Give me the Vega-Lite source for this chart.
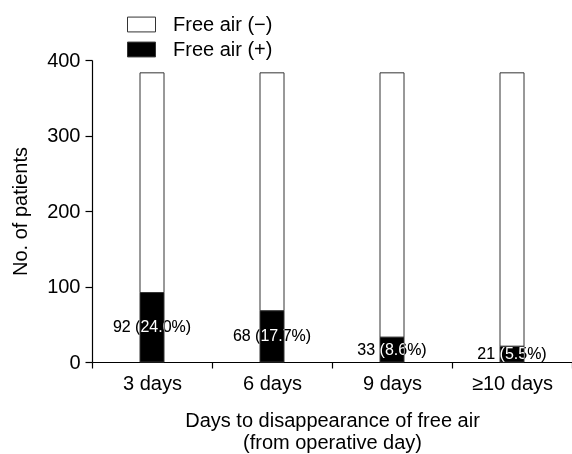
{
  "$schema": "https://vega.github.io/schema/vega-lite/v6.json",
  "width": 480,
  "height": 302,
  "autosize": {"type": "none"},
  "padding": {"left": 92, "top": 60, "right": 0, "bottom": 92},
  "background": "white",
  "config": {
    "view": {"stroke": null},
    "font": "Liberation Sans",
    "axis": {"labelFont": "Liberation Sans", "titleFont": "Liberation Sans", "labelColor": "#000", "titleColor": "#000", "domainColor": "#000", "tickColor": "#000", "titleFontWeight": "normal", "grid": false}
  },
  "data": {
    "values": [
      {"day": "3 days", "status": "Free air (+)", "n": 92, "label": "92 (24.0%)"},
      {"day": "3 days", "status": "Free air (−)", "n": 291},
      {"day": "6 days", "status": "Free air (+)", "n": 68, "label": "68 (17.7%)"},
      {"day": "6 days", "status": "Free air (−)", "n": 315},
      {"day": "9 days", "status": "Free air (+)", "n": 33, "label": "33 (8.6%)"},
      {"day": "9 days", "status": "Free air (−)", "n": 350},
      {"day": "≥10 days", "status": "Free air (+)", "n": 21, "label": "21 (5.5%)"},
      {"day": "≥10 days", "status": "Free air (−)", "n": 362}
    ]
  },
  "layer": [
    {
      "mark": {"type": "bar", "size": 24, "stroke": "#333", "strokeWidth": 1},
      "encoding": {
        "x": {
          "field": "day", "type": "nominal", "sort": null,
          "scale": {"paddingInner": 0, "paddingOuter": 0},
          "axis": {"title": ["Days to disappearance of free air", "(from operative day)"], "labelAngle": 0, "labelFontSize": 20, "titleFontSize": 20, "tickBand": "extent", "tickSize": 6, "labelPadding": 5, "titlePadding": 17, "titleLineHeight": 22, "domainWidth": 1.2, "tickWidth": 1.2}
        },
        "y": {
          "field": "n", "type": "quantitative", "stack": "zero",
          "scale": {"domain": [0, 400], "nice": false},
          "axis": {"title": "No. of patients", "values": [0, 100, 200, 300, 400], "labelFontSize": 20, "titleFontSize": 20, "tickSize": 7, "labelPadding": 5, "titlePadding": 16, "domainWidth": 1.2, "tickWidth": 1.2}
        },
        "order": {"field": "status", "sort": "ascending"},
        "color": {
          "field": "status", "type": "nominal",
          "scale": {"domain": ["Free air (−)", "Free air (+)"], "range": ["#ffffff", "#000000"]},
          "legend": {"title": null, "orient": "none", "legendX": 35, "legendY": -50, "symbolType": "M-1,-0.53H1V0.53H-1Z", "symbolSize": 784, "symbolStrokeColor": "#333", "symbolStrokeWidth": 1, "labelFontSize": 20, "labelColor": "#000", "labelOffset": 17, "rowPadding": 0, "padding": 0}
        }
      }
    },
    {
      "transform": [{"filter": "datum.status === 'Free air (+)'"}],
      "mark": {"type": "text", "fontSize": 16, "fill": "#fff", "blend": "difference", "baseline": "middle", "align": "center"},
      "encoding": {
        "x": {"field": "day", "type": "nominal", "sort": null},
        "y": {"field": "n", "type": "quantitative", "scale": {"domain": [0, 800], "nice": false}, "axis": null},
        "text": {"field": "label"}
      }
    }
  ],
  "resolve": {"scale": {"y": "independent"}}
}
